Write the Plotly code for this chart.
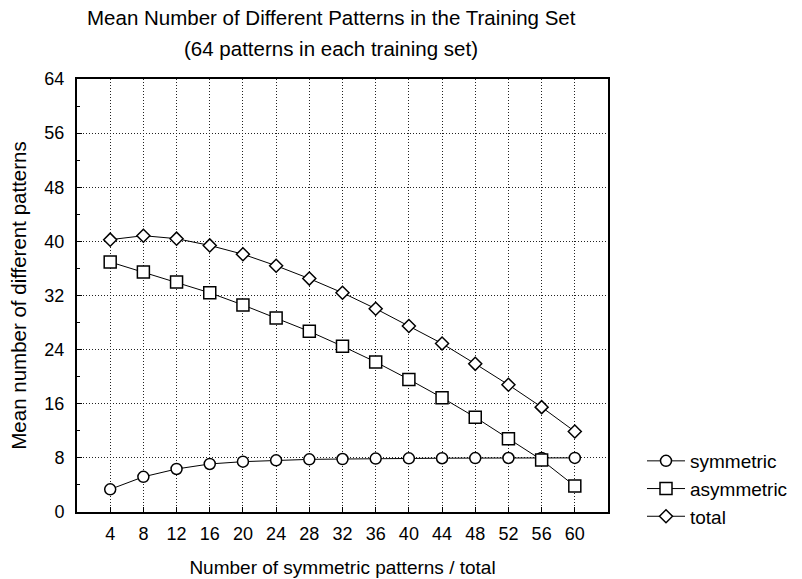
import plotly.graph_objects as go

x_vals = [4, 8, 12, 16, 20, 24, 28, 32, 36, 40, 44, 48, 52, 56, 60]
symmetric = [3.35, 5.2, 6.36, 7.1, 7.44, 7.64, 7.78, 7.83, 7.9, 7.93, 7.95, 7.97, 7.98, 7.99, 8.0]
asymmetric = [36.95, 35.47, 33.99, 32.4, 30.6, 28.67, 26.7, 24.5, 22.17, 19.6, 16.9, 14.0, 10.84, 7.69, 3.84]
total = [40.25, 40.84, 40.4, 39.4, 38.1, 36.4, 34.5, 32.4, 30.05, 27.5, 24.9, 21.9, 18.8, 15.5, 11.9]
y_ticks = [0, 8, 16, 24, 32, 40, 48, 56, 64]

FONT = "Liberation Sans, Arial, Helvetica, sans-serif"

fig = go.Figure()
series = [
    ("symmetric", symmetric, "circle", 11),
    ("asymmetric", asymmetric, "square", 12),
    ("total", total, "diamond", 10),
]
for name, vals, sym, size in series:
    fig.add_trace(go.Scatter(
        x=x_vals, y=vals, name=name, mode="lines+markers",
        line=dict(color="black", width=1),
        marker=dict(symbol=sym, size=size, color="white",
                    line=dict(color="black", width=1.5)),
    ))

fig.update_layout(
    width=802, height=579,
    margin=dict(l=77, r=194, t=79, b=67, autoexpand=False),
    paper_bgcolor="white", plot_bgcolor="white",
    font=dict(family=FONT, size=18, color="black"),
    showlegend=True,
    legend=dict(x=1 + (642 - 608) / 531, y=(512 - 442) / 433,
                xanchor="left", yanchor="top",
                font=dict(size=19, family=FONT), tracegroupgap=0,
                bgcolor="rgba(0,0,0,0)", itemwidth=38),
    annotations=[
        dict(text="Mean Number of Different Patterns in the Training Set",
             xref="paper", yref="paper", x=(331 - 77) / 531, y=1 + (79 - 18) / 433,
             xanchor="center", yanchor="middle", showarrow=False,
             font=dict(size=20.5, family=FONT)),
        dict(text="(64 patterns in each training set)",
             xref="paper", yref="paper", x=(331 - 77) / 531, y=1 + (79 - 48) / 433,
             xanchor="center", yanchor="middle", showarrow=False,
             font=dict(size=20.5, family=FONT)),
    ],
)
fig.update_xaxes(
    range=[0, 64], tickvals=x_vals, ticktext=[str(v) for v in x_vals],
    showgrid=True, gridcolor="#222", griddash="1px,2px", gridwidth=1,
    showline=True, linecolor="black", linewidth=2, mirror=True,
    ticks="inside", ticklen=5, tickcolor="black",
    zeroline=False, ticklabelstandoff=4,
    title=dict(text="Number of symmetric patterns / total", font=dict(size=19), standoff=18),
)
fig.update_yaxes(
    range=[0, 64], tickvals=y_ticks, ticktext=[str(v) for v in y_ticks],
    showgrid=True, gridcolor="#222", griddash="1px,2px", gridwidth=1,
    showline=True, linecolor="black", linewidth=2, mirror=True,
    ticks="inside", ticklen=5, tickcolor="black",
    zeroline=False, ticklabelstandoff=7,
    minor=dict(ticks="inside", ticklen=3, dtick=4, tickcolor="black", showgrid=False),
    title=dict(text="Mean number of different patterns", font=dict(size=20.5), standoff=12),
)

fig.write_html("out.html")
